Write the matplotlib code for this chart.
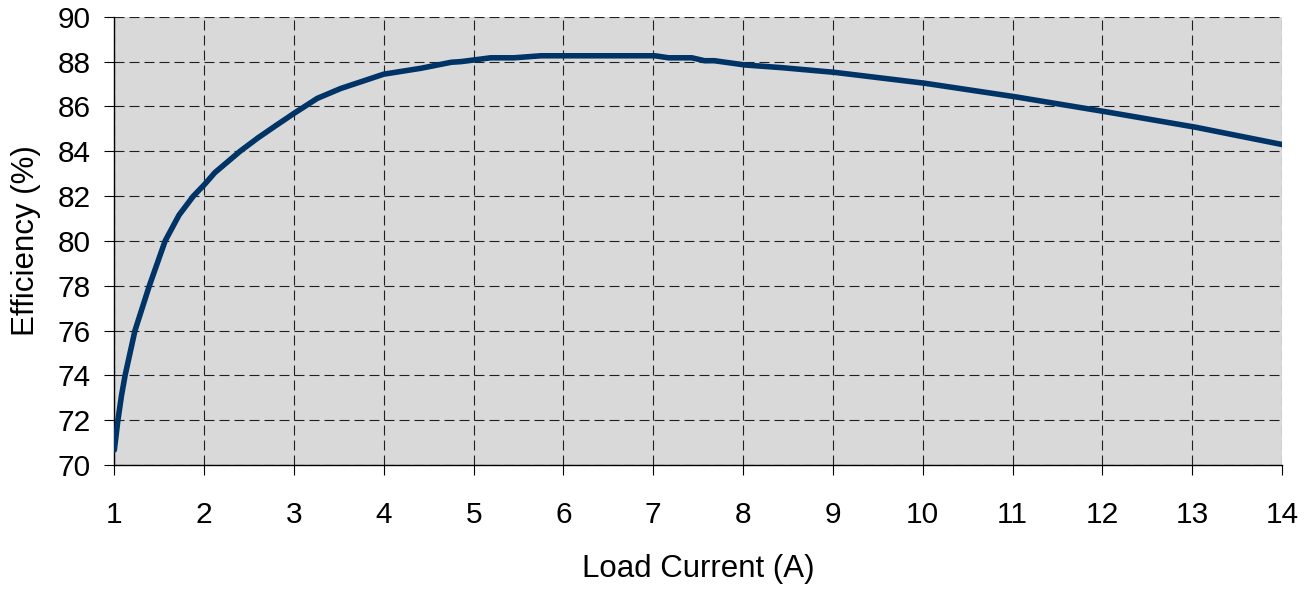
# Efficiency vs load current curve
import matplotlib.pyplot as plt

# values
load_current = [1.0, 1.04, 1.08, 1.12, 1.23, 1.39, 1.566, 1.72, 1.88, 2.0, 2.12, 2.40,
                2.6, 2.8, 3.0, 3.26, 3.52, 4.0, 4.41, 4.75, 4.86, 5.19, 5.45, 5.75,
                7.02, 7.17, 7.43, 7.57, 7.68, 8.02, 8.43, 9.02, 10.03,
                11.03, 12.04, 13.04, 14.0]
efficiency = [70.67, 72.0, 73.1, 74.0, 76.0, 78.0, 80.0, 81.15, 82.0, 82.5, 83.05, 84.0,
              84.6, 85.15, 85.69, 86.36, 86.8, 87.44, 87.7, 87.97, 88.0, 88.17, 88.17, 88.26,
              88.26, 88.17, 88.17, 88.04, 88.04, 87.85, 87.73, 87.52, 87.03,
              86.43, 85.76, 85.07, 84.3]
x_ticks = list(range(1, 15))
y_ticks = list(range(70, 91, 2))

plt.rcParams['font.family'] = ['Liberation Sans', 'DejaVu Sans']

fig = plt.figure(figsize=(13.14, 5.89), dpi=100)
ax = fig.add_axes([0.087, 0.2105, 0.8887, 0.761])
ax.set_facecolor('#d9d9d9')

ax.plot(load_current, efficiency, color='#003366', linewidth=4,
        solid_joinstyle='round', solid_capstyle='round', zorder=3)

ax.set_xlim(1, 14)
ax.set_ylim(70, 90)
ax.set_xticks(x_ticks)
ax.set_yticks(y_ticks)

ax.grid(True, color='black', linestyle=(0, (9, 4.5)), linewidth=0.8, alpha=0.85)
ax.set_axisbelow(True)

for side in ['top', 'right']:
    ax.spines[side].set_visible(False)
for side in ['left', 'bottom']:
    ax.spines[side].set_color('black')
    ax.spines[side].set_linewidth(1.0)

ax.tick_params(axis='both', direction='out', length=7, width=0.8, labelsize=21.5)
ax.tick_params(axis='x', pad=19)
ax.tick_params(axis='y', pad=10)

ax.set_xlabel('Load Current (A)', fontsize=22.5, labelpad=18)
ax.set_ylabel('Efficiency (%)', fontsize=22.5, labelpad=12)

fig.savefig('out.png', dpi=100)
